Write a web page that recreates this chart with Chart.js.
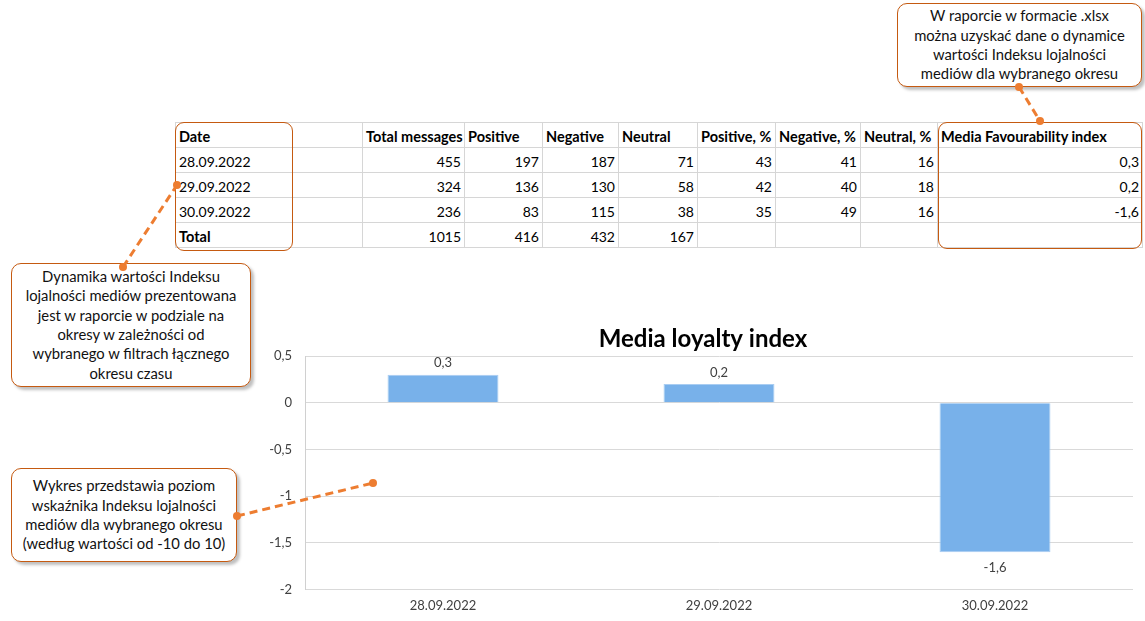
<!DOCTYPE html>
<html>
<head>
<meta charset="utf-8">
<script src="https://cdn.jsdelivr.net/npm/chart.js@4.4.0/dist/chart.umd.min.js"></script>
<style>
  html, body { margin: 0; padding: 0; background: #fff; }
  body { width: 1145px; height: 621px; position: relative; overflow: hidden; font-family: Lato, "Open Sans", sans-serif; }
  #sheet { position: absolute; left: 175px; top: 122px; border-collapse: collapse; table-layout: fixed; width: 967px; font-size: 14px; color: #000; }
  #sheet td { border: 1px solid #d6d6d6; height: 24px; padding: 0 3px; vertical-align: bottom; line-height: 20px; white-space: nowrap; overflow: visible; }
  #sheet td.num { text-align: right; }
  #sheet tr.head td, #sheet td.bold { font-weight: bold; font-size: 14.5px; }
  .frame { position: absolute; border: 1.5px solid #c55a11; border-radius: 9px; box-sizing: border-box; }
  .note { position: absolute; background: #fff; border: 1.5px solid #c55a11; border-radius: 10px; box-sizing: border-box;
          box-shadow: 3px 3px 3px rgba(0,0,0,0.25); font-size: 14.8px; line-height: 19.3px; text-align: center; color: #111;
          display: flex; align-items: center; justify-content: center; }
  #chartBox { position: absolute; left: 261px; top: 322px; width: 884px; height: 299px; }
  svg { position: absolute; left: 0; top: 0; }
</style>
</head>
<body>

<table id="sheet"></table>
<div class="frame" style="left:175px; top:122px; width:118px; height:129px;"></div>
<div class="frame" style="left:938px; top:122px; width:204px; height:127px;"></div>

<div id="chartBox"><canvas id="myChart" width="884" height="299"></canvas></div>

<div class="note" style="left:897px; top:3px; width:245px; height:84px;">W raporcie w formacie .xlsx<br>można uzyskać dane o dynamice<br>wartości Indeksu lojalności<br>mediów dla wybranego okresu</div>
<div class="note" style="left:11px; top:263px; width:240px; height:124px;">Dynamika wartości Indeksu<br>lojalności mediów prezentowana<br>jest w raporcie w podziale na<br>okresy w zależności od<br>wybranego w filtrach łącznego<br>okresu czasu</div>
<div class="note" style="left:11px; top:468px; width:226px; height:94px;">Wykres przedstawia poziom<br>wskaźnika Indeksu lojalności<br>mediów dla wybranego okresu<br>(według wartości od -10 do 10)</div>

<svg width="1145" height="621">
  <g stroke="#ed7d31" stroke-width="3" stroke-dasharray="8 5" fill="none">
    <line x1="1019" y1="87" x2="1040" y2="121"/>
    <line x1="123" y1="267" x2="177" y2="185"/>
    <line x1="237" y1="516" x2="373" y2="483"/>
  </g>
  <g fill="#ed7d31">
    <circle cx="1019" cy="87" r="4"/><circle cx="1040" cy="121" r="4"/>
    <circle cx="123" cy="267" r="4"/><circle cx="177" cy="185" r="4"/>
    <circle cx="237" cy="516" r="4"/><circle cx="373" cy="483" r="4"/>
  </g>
</svg>

<script>
const dates = ['28.09.2022', '29.09.2022', '30.09.2022'];
const totalMessages = [455, 324, 236];
const positive = [197, 136, 83];
const negative = [187, 130, 115];
const neutral = [71, 58, 38];
const positivePct = [43, 42, 35];
const negativePct = [41, 40, 49];
const neutralPct = [16, 18, 16];
const totals = [1015, 416, 432, 167];
const loyaltyIndex = [0.3, 0.2, -1.6];

const headers = ['Date', 'Total messages', 'Positive', 'Negative', 'Neutral', 'Positive, %', 'Negative, %', 'Neutral, %', 'Media Favourability index'];
const colWidths = [187, 102, 78, 76, 79, 78, 85, 77, 205];
const yMin = -2, yMax = 0.5, yStep = 0.5;

function fmt(v) {
  return String(v).replace('.', ',');
}

// build the sheet
const sheet = document.getElementById('sheet');
let html = '<colgroup>' + colWidths.map(w => '<col style="width:' + w + 'px">').join('') + '</colgroup>';
html += '<tr class="head">' + headers.map(h => '<td>' + h + '</td>').join('') + '</tr>';
dates.forEach((d, i) => {
  const cells = [totalMessages[i], positive[i], negative[i], neutral[i], positivePct[i], negativePct[i], neutralPct[i], fmt(loyaltyIndex[i])];
  html += '<tr><td>' + d + '</td>' + cells.map(c => '<td class="num">' + c + '</td>').join('') + '</tr>';
});
html += '<tr><td class="bold">Total</td>' + totals.map(c => '<td class="num">' + c + '</td>').join('') + '<td></td><td></td><td></td><td></td></tr>';
sheet.innerHTML = html;

const valueLabels = {
  id: 'valueLabels',
  afterDatasetsDraw(chart) {
    const ctx = chart.ctx;
    const meta = chart.getDatasetMeta(0);
    ctx.save();
    ctx.font = '13px Lato';
    ctx.fillStyle = '#404040';
    ctx.textAlign = 'center';
    ctx.textBaseline = 'middle';
    meta.data.forEach((bar, i) => {
      const v = loyaltyIndex[i];
      if (v >= 0) {
        ctx.fillText(fmt(v), bar.x, bar.y - 11.5);
      } else {
        ctx.fillText(fmt(v), bar.x, bar.y + 16);
      }
    });
    ctx.restore();
  }
};

new Chart('myChart', {
  type: 'bar',
  data: {
    labels: dates,
    datasets: [{
      data: loyaltyIndex,
      backgroundColor: '#78b1ea',
      borderColor: '#a9cdf2',
      borderWidth: 1,
      categoryPercentage: 1,
      barPercentage: 0.402
    }]
  },
  options: {
    responsive: false,
    animation: false,
    layout: { padding: 0 },
    plugins: {
      legend: { display: false },
      tooltip: { enabled: false },
      title: {
        display: true,
        text: 'Media loyalty index',
        color: '#000',
        font: { family: 'Lato', size: 24, weight: 'bold' },
        padding: { top: 3, bottom: 2.2 }
      }
    },
    scales: {
      x: {
        grid: { display: false, drawTicks: false },
        border: { display: false },
        ticks: { color: '#404040', font: { family: 'Lato', size: 13 }, padding: 9 },
        afterFit: (s) => { s.height = 31.5; }
      },
      y: {
        min: yMin,
        max: yMax,
        grid: { color: '#d9d9d9', lineWidth: 1, drawTicks: false },
        border: { display: true, color: '#d0d0d0' },
        ticks: {
          stepSize: yStep,
          color: '#404040',
          font: { family: 'Lato', size: 13 },
          padding: 13,
          callback: (v) => fmt(v)
        },
        afterFit: (s) => { s.width = 44; }
      },
      // empty right margin so the title stays centred on the whole canvas
      gap: {
        type: 'linear',
        position: 'right',
        grid: { display: false, drawTicks: false },
        border: { display: false },
        ticks: { display: false },
        afterFit: (s) => { s.width = 12; }
      }
    }
  },
  plugins: [valueLabels]
});
</script>
</body>
</html>
